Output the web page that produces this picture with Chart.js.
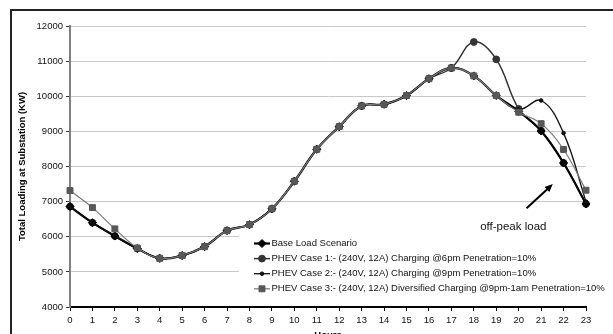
<!DOCTYPE html>
<html>
<head>
<meta charset="utf-8">
<script src="https://cdn.jsdelivr.net/npm/chart.js@4/dist/chart.umd.min.js"></script>
<style>
  html, body { margin: 0; padding: 0; overflow: hidden; background: #fff; }
  #frame { position: absolute; left: 10px; top: 9px; width: 700px; height: 400px; border: 2px solid #222; }
  #wrap { position: absolute; left: 0; top: 0; width: 613px; height: 346px; }
</style>
</head>
<body>
<div id="frame"></div>
<div id="wrap"><canvas id="loadChart" width="613" height="346"></canvas></div>
<script>
// Hours of the day
const hours = ['0','1','2','3','4','5','6','7','8','9','10','11','12','13','14','15','16','17','18','19','20','21','22','23'];

// Substation loading (KW)
const baseLoad = [6860, 6400, 6020, 5665, 5385, 5465, 5720, 6175, 6345, 6795, 7580, 8490, 9135, 9725, 9770, 10020, 10500, 10805, 10580, 10020, 9570, 9010, 8100, 6935];
const case1 = [6860, 6400, 6020, 5665, 5385, 5465, 5720, 6175, 6345, 6795, 7580, 8490, 9135, 9725, 9770, 10020, 10500, 10805, 11545, 11050, 9640, 9020, 8100, 6935];
const case2 = [6860, 6400, 6020, 5665, 5385, 5465, 5720, 6175, 6345, 6795, 7580, 8490, 9135, 9725, 9770, 10020, 10500, 10805, 10580, 10020, 9620, 9880, 8950, 7000];
const case3 = [7315, 6830, 6225, 5680, 5385, 5465, 5720, 6175, 6345, 6795, 7580, 8490, 9135, 9725, 9770, 10020, 10500, 10805, 10580, 10020, 9545, 9220, 8485, 7325];

const seriesNames = [
    'Base Load Scenario',
    'PHEV Case 1:- (240V, 12A) Charging @6pm Penetration=10%',
    'PHEV Case 2:- (240V, 12A) Charging @9pm Penetration=10%',
    'PHEV Case 3:- (240V, 12A) Diversified Charging @9pm-1am Penetration=10%'
];

// y axis range
const yMin = 4000, yMax = 12000, yStep = 1000;

// annotation: arrow tail/head and label, in [hour, KW]
const arrowTail = [20.35, 6810];
const arrowHead = [21.52, 7500];
const noteLabel = [19.76, 6290];
const noteText = 'off-peak load';

const FONT = '"Liberation Sans", Arial, sans-serif';

// order: lower number is drawn on top (squares end up on top, like the original)
const datasets = [
    { label: seriesNames[0], data: baseLoad, borderColor: '#000', backgroundColor: '#000', borderWidth: 2.2,
      pointStyle: 'rectRot', pointRadius: 4, pointBorderWidth: 1, order: 2 },
    { label: seriesNames[1], data: case1, borderColor: '#333', backgroundColor: '#333', borderWidth: 1.5,
      pointStyle: 'circle', pointRadius: 3.4, pointBorderWidth: 1, order: 3 },
    { label: seriesNames[2], data: case2, borderColor: '#111', backgroundColor: '#111', borderWidth: 1.3,
      pointStyle: 'circle', pointRadius: 1.8, pointBorderWidth: 1, order: 1 },
    { label: seriesNames[3], data: case3, borderColor: '#7a7a7a', backgroundColor: '#585858', borderWidth: 1.2,
      pointStyle: 'rect', pointRadius: 4.2, pointBorderWidth: 1, pointBorderColor: '#585858', order: 0 }
];
datasets.forEach(d => { d.tension = 0.4; d.fill = false; });

// legend box drawn inside the plot, white background covers gridlines
const legendPlugin = {
    id: 'boxLegend',
    beforeDatasetsDraw(chart) {
        const ctx = chart.ctx;
        ctx.save();
        ctx.fillStyle = '#fff';
        ctx.fillRect(239, 232, 380, 68);
        ctx.font = '9.5px ' + FONT;
        ctx.textBaseline = 'middle';
        chart.data.datasets.forEach((ds, i) => {
            const y = 243.5 + i * 15.1;
            ctx.strokeStyle = ds.borderColor;
            ctx.lineWidth = ds.borderWidth;
            ctx.beginPath();
            ctx.moveTo(254, y);
            ctx.lineTo(270, y);
            ctx.stroke();
            ctx.fillStyle = ds.backgroundColor;
            ctx.strokeStyle = ds.pointBorderColor || ds.borderColor;
            ctx.lineWidth = 1;
            Chart.helpers.drawPoint(ctx, { pointStyle: ds.pointStyle, radius: ds.pointRadius, rotation: 0, borderWidth: 1 }, 262, y);
            ctx.fillStyle = '#111';
            ctx.fillText(ds.label, 271.5, y);
        });
        ctx.restore();
    },
    afterDraw(chart) {
        const ctx = chart.ctx;
        const xs = chart.scales.x, ys = chart.scales.y;
        const px = h => xs.left + (xs.right - xs.left) * h / (hours.length - 1);
        const x0 = px(arrowTail[0]), y0 = ys.getPixelForValue(arrowTail[1]);
        const x1 = px(arrowHead[0]), y1 = ys.getPixelForValue(arrowHead[1]);
        const ang = Math.atan2(y1 - y0, x1 - x0);
        ctx.save();
        ctx.strokeStyle = '#000';
        ctx.fillStyle = '#000';
        ctx.lineWidth = 2;
        ctx.beginPath();
        ctx.moveTo(x0, y0);
        ctx.lineTo(x1 - 5 * Math.cos(ang), y1 - 5 * Math.sin(ang));
        ctx.stroke();
        ctx.beginPath();
        ctx.moveTo(x1, y1);
        ctx.lineTo(x1 - 8 * Math.cos(ang) + 3.5 * Math.sin(ang), y1 - 8 * Math.sin(ang) - 3.5 * Math.cos(ang));
        ctx.lineTo(x1 - 8 * Math.cos(ang) - 3.5 * Math.sin(ang), y1 - 8 * Math.sin(ang) + 3.5 * Math.cos(ang));
        ctx.closePath();
        ctx.fill();
        ctx.font = '11.5px ' + FONT;
        ctx.textAlign = 'center';
        ctx.textBaseline = 'middle';
        ctx.fillStyle = '#111';
        ctx.fillText(noteText, px(noteLabel[0]), ys.getPixelForValue(noteLabel[1]));
        ctx.restore();
    }
};

const config = {
    type: 'line',
    data: { labels: hours, datasets: datasets },
    options: {
        responsive: false,
        animation: false,
        events: [],
        layout: { padding: { left: 0, right: 27, top: 26, bottom: 0 } },
        plugins: { legend: { display: false }, tooltip: { enabled: false } },
        scales: {
            x: {
                offset: false,
                afterFit: s => { s.height = 39; },
                grid: { drawOnChartArea: false, drawTicks: true, tickLength: 4, tickColor: '#000' },
                border: { color: '#000', width: 2 },
                ticks: { color: '#111', font: { family: FONT, size: 9.5 }, padding: 4, maxRotation: 0, autoSkip: false },
                title: { display: true, text: 'Hours', color: '#000',
                         font: { family: FONT, size: 9.5, weight: 'bold' }, padding: { top: 0, bottom: 4.6 } }
            },
            y: {
                min: yMin,
                max: yMax,
                afterFit: s => { s.width = 70; },
                grid: { color: '#c8c8c8', lineWidth: 1, drawTicks: true, tickLength: 4, tickColor: '#333' },
                border: { color: '#808080', width: 2 },
                ticks: { stepSize: yStep, color: '#111', font: { family: FONT, size: 9.5 }, padding: 3,
                         callback: v => String(v) },
                title: { display: true, text: 'Total Loading at Substation (KW)', color: '#000',
                         font: { family: FONT, size: 9.5, weight: 'bold' }, padding: { top: 17, bottom: 0 } }
            }
        }
    },
    plugins: [legendPlugin]
};

window.onload = () => {
    const ctx = document.getElementById('loadChart').getContext('2d');
    new Chart(ctx, config);
};
</script>
</body>
</html>
